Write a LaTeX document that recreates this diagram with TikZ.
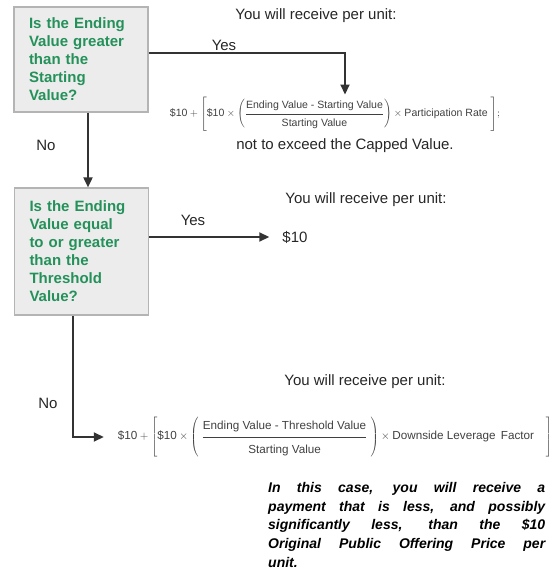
\documentclass[tikz,border=0pt]{standalone}
\usepackage{fontspec}
\setmainfont{Liberation Sans}
\usetikzlibrary{arrows.meta,calc}
\definecolor{boxfill}{HTML}{ECECEC}
\definecolor{boxborder}{HTML}{B4B4B4}
\definecolor{qgreen}{HTML}{24915A}
\definecolor{linecol}{HTML}{333333}
\begin{document}
\begin{tikzpicture}[x=1pt,y=-1pt,
  qbox/.style={draw=boxborder, line width=1.2pt, fill=boxfill, text=qgreen,
    font=\fontsize{15}{18}\selectfont\bfseries, align=left, text width=104pt,
    minimum width=134pt, inner sep=0pt},
  lbl/.style={font=\fontsize{15}{18}\selectfont, inner sep=0pt, text=black!85},
  conn/.style={draw=linecol, line width=1.8pt},
  arr/.style={conn, -{Triangle[length=10pt,width=9pt]}},
  fml/.style={inner sep=0pt, text=black!75}
]
\useasboundingbox (0,0) rectangle (554,575);

\node[qbox, minimum height=105pt] (b1) at (81,59.5)
  {Is the Ending\\ Value greater\\ than the\\ Starting\\ Value?};
\node[qbox, minimum height=127pt] (b2) at (81.5,251.5)
  {Is the Ending\\ Value equal\\ to or greater\\ than the\\ Threshold\\ Value?};

\node[lbl] (r1) at (316,16) {You will receive per unit:};
\node[lbl] (y1) at (224,45) {Yes};
\node[fml] (f1) at (335,114) {\resizebox{330pt}{!}{\fontsize{11}{13}\selectfont$\mbox{\$10} + \left[\mbox{\$10} \times \left(\frac{\mbox{Ending Value - Starting Value}\rule[-5pt]{0pt}{0pt}}{\rule{0pt}{12pt}\mbox{Starting Value}}\right) \times \mbox{Participation Rate}\;\rule[-15pt]{0pt}{34pt}\right]\!;$}};
\node[lbl] (cap) at (345,146) {not to exceed the Capped Value.};
\node[lbl] (n1) at (46,145) {No};

\coordinate (c1) at (345,53);
\draw[arr, shorten >=2pt] (b1.east |- c1) -- (c1) -- (c1 |- f1.north);
\draw[arr] (b1.south -| 88,0) -- (b2.north -| 88,0);

\node[lbl] (r2) at (366,200) {You will receive per unit:};
\node[lbl] (y2) at (193,220) {Yes};
\node[lbl] (d10) at (295,237) {\$10};
\draw[arr, shorten >=13pt] (b2.east |- d10) -- (d10.west);

\node[lbl] (n2) at (48,403) {No};
\node[lbl] (r3) at (365,382) {You will receive per unit:};
\node[fml] (f2) at (335,437) {\resizebox{434pt}{!}{\fontsize{12.5}{15}\selectfont$\mbox{\$10} + \left[\mbox{\$10} \times \left(\;\frac{\mbox{Ending Value - Threshold Value}\rule[-7pt]{0pt}{0pt}}{\rule{0pt}{17pt}\mbox{Starting Value}}\;\right) \times \mbox{Downside Leverage\, Factor}\quad\rule[-16pt]{0pt}{36pt}\right]$}};

\coordinate (c2) at (73,437);
\draw[arr, shorten >=14pt] (b2.south -| c2) -- (c2) -- (f2.west);

\node[inner sep=0pt, anchor=north west, text width=277pt, align=justify,
  font=\fontsize{14}{18.8}\selectfont\bfseries\itshape] (note) at (268,482)
  {In this case, you will receive a\linebreak payment that is less, and possibly\linebreak significantly less, than the \$10\linebreak Original Public Offering Price per\linebreak unit.};
\end{tikzpicture}
\end{document}
